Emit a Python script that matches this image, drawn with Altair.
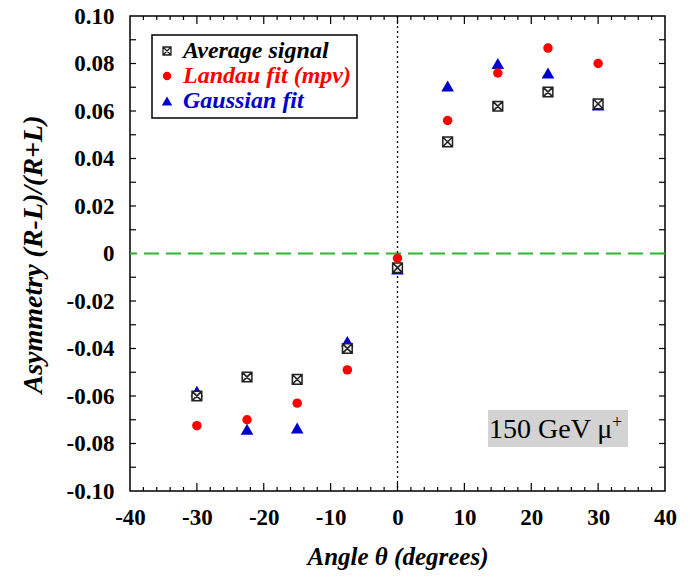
import altair as alt
import pandas as pd

# ---- data ----
angles = [-30, -22.5, -15, -7.5, 0, 7.5, 15, 22.5, 30]
avg_signal = [-0.060, -0.052, -0.053, -0.040, -0.006, 0.047, 0.062, 0.068, 0.063]
landau_mpv = [-0.0725, -0.070, -0.063, -0.049, -0.002, 0.056, 0.076, 0.0865, 0.080]
gaussian_fit = [-0.058, -0.074, -0.0735, -0.037, -0.0065, 0.0705, 0.080, 0.076, 0.0625]

series_names = ["Average signal", "Landau fit (mpv)", "Gaussian fit"]
series_colors = ["black", "#ff0000", "#0000cc"]

x_tick_labels = [-40, -30, -20, -10, 0, 10, 20, 30, 40]
y_tick_labels = [-0.10, -0.08, -0.06, -0.04, -0.02, 0, 0.02, 0.04, 0.06, 0.08, 0.10]
x_major_ticks = [-30, -20, -10, 0, 10, 20, 30]
x_minor_ticks = [-38, -36, -34, -32, -28, -26, -24, -22, -18, -16, -14, -12, -8, -6, -4, -2,
                 2, 4, 6, 8, 12, 14, 16, 18, 22, 24, 26, 28, 32, 34, 36, 38]
y_ticks = [-0.09, -0.08, -0.07, -0.06, -0.05, -0.04, -0.03, -0.02, -0.01, 0,
           0.01, 0.02, 0.03, 0.04, 0.05, 0.06, 0.07, 0.08, 0.09]
zero_line = [0]
annotation_text = "150 GeV μ"
annotation_sup = "+"

# ---- layout ----
W, H = 535, 475
FONT = "Liberation Serif"

df = pd.DataFrame({"angle": angles, "avg": avg_signal, "landau": landau_mpv, "gauss": gaussian_fit})
one_row = pd.DataFrame({"k": [0]})

xscale = alt.Scale(domain=[-40, 40], nice=False, zero=False)
yscale = alt.Scale(domain=[-0.1, 0.1], nice=False, zero=False)

x_axis = alt.Axis(
    values=x_tick_labels, title="Angle θ (degrees)", ticks=False, tickSize=0, domain=False, grid=False,
    labelFont=FONT, labelFontSize=23, labelFontWeight="bold", labelColor="black",
    labelPadding=26, labelBaseline="middle", labelFlush=False, labelOverlap=False,
    labelExpr="abs(datum.value) < 1e-9 ? '0' : (datum.value < 0 ? '-' : '') + format(abs(datum.value), 'd')",
    titleFont=FONT, titleFontSize=25, titleFontWeight="bold", titleFontStyle="italic", titleColor="black",
    titleY=65, titleBaseline="middle",
)
y_axis = alt.Axis(
    values=y_tick_labels, title="Asymmetry (R-L)/(R+L)", ticks=False, tickSize=0, domain=False, grid=False,
    labelFont=FONT, labelFontSize=23, labelFontWeight="bold", labelColor="black",
    labelPadding=16, labelFlush=False, labelOverlap=False,
    labelExpr="abs(datum.value) < 1e-9 ? '0' : (datum.value < 0 ? '-' : '') + format(abs(datum.value), '.2f')",
    titleFont=FONT, titleFontSize=28, titleFontWeight="bold", titleFontStyle="italic", titleColor="black",
    titleAngle=-90, titleX=-97, titleY=238, titleAlign="center", titleBaseline="middle",
)


def X(field):
    return alt.X(field, scale=xscale, axis=x_axis)


def Y(field):
    return alt.Y(field, scale=yscale, axis=y_axis)


SQX = "M-1,-1H1V1H-1Z M-1,-1L1,1 M1,-1L-1,1"

# tick marks (inward, all four sides)
xmaj = pd.DataFrame({"t": x_major_ticks})
xmin = pd.DataFrame({"t": x_minor_ticks})
yt = pd.DataFrame({"t": y_ticks})
tick_layers = []
for d, ln in [(xmaj, 8), (xmin, 4)]:
    tick_layers.append(alt.Chart(d).mark_rule(color="black", strokeWidth=1.2).encode(
        x=X("t:Q"), y=alt.value(H), y2=alt.value(H - ln)))
    tick_layers.append(alt.Chart(d).mark_rule(color="black", strokeWidth=1.2).encode(
        x=X("t:Q"), y=alt.value(0), y2=alt.value(ln)))
tick_layers.append(alt.Chart(yt).mark_rule(color="black", strokeWidth=1.2).encode(
    y=Y("t:Q"), x=alt.value(0), x2=alt.value(6)))
tick_layers.append(alt.Chart(yt).mark_rule(color="black", strokeWidth=1.2).encode(
    y=Y("t:Q"), x=alt.value(W), x2=alt.value(W - 6)))

zl = pd.DataFrame({"v": zero_line})
green = alt.Chart(zl).mark_rule(color="#2fb52f", strokeWidth=2, strokeDash=[15, 7]).encode(y=Y("v:Q"))
dotted = alt.Chart(zl).mark_rule(color="black", strokeWidth=1.3, strokeDash=[2, 3]).encode(x=X("v:Q"))

tri = alt.Chart(df).mark_point(shape="triangle-up", filled=True, color=series_colors[2], size=160, opacity=1).encode(
    x=X("angle:Q"), y=Y("gauss:Q"))
sq = alt.Chart(df).mark_point(shape=SQX, filled=False, fill="#efefef", fillOpacity=1, stroke="#222222",
                              strokeWidth=1.5, size=95, opacity=1).encode(
    x=X("angle:Q"), y=Y("avg:Q"))
circ = alt.Chart(df).mark_point(shape="circle", filled=True, color=series_colors[1], size=90, opacity=1).encode(
    x=X("angle:Q"), y=Y("landau:Q"))

# legend box
legend_layers = [alt.Chart(one_row).mark_rect(fill="white", stroke="black", strokeWidth=1.5).encode(
    x=alt.value(22), x2=alt.value(227), y=alt.value(19), y2=alt.value(102))]
legend_y = [35, 60, 85]
legend_marks = [
    dict(shape=SQX, filled=False, fill="#efefef", fillOpacity=1, stroke="#222222", strokeWidth=1.3, size=64),
    dict(shape="circle", filled=True, color=series_colors[1], size=70),
    dict(shape="triangle-up", filled=True, color=series_colors[2], size=110),
]
for i, name in enumerate(series_names):
    legend_layers.append(alt.Chart(one_row).mark_point(opacity=1, **legend_marks[i]).encode(
        x=alt.value(37), y=alt.value(legend_y[i])))
    legend_layers.append(alt.Chart(pd.DataFrame({"name": [name]})).mark_text(
        align="left", baseline="alphabetic", font=FONT, fontSize=24, fontWeight="bold", fontStyle="italic",
        color=series_colors[i]).encode(x=alt.value(53), y=alt.value(legend_y[i] + 7), text="name:N"))

# annotation
ann = [
    alt.Chart(one_row).mark_rect(fill="#d3d3d3").encode(
        x=alt.value(358), x2=alt.value(498), y=alt.value(394), y2=alt.value(431)),
    alt.Chart(one_row).mark_text(align="left", baseline="alphabetic", font=FONT, fontSize=28, color="black").encode(
        x=alt.value(359), y=alt.value(422), text=alt.value(annotation_text)),
    alt.Chart(one_row).mark_text(align="left", baseline="middle", font=FONT, fontSize=18, color="black").encode(
        x=alt.value(482), y=alt.value(407), text=alt.value(annotation_sup)),
]

chart = alt.layer(*tick_layers, green, dotted, tri, sq, circ, *legend_layers, *ann).properties(
    width=W, height=H,
    autosize=alt.AutoSizeParams(type="none"),
    padding={"left": 130, "top": 16, "right": 27, "bottom": 88},
).configure_view(stroke="black", strokeWidth=1.5)

chart.save("out.html", embed_options={"renderer": "svg", "actions": False})
